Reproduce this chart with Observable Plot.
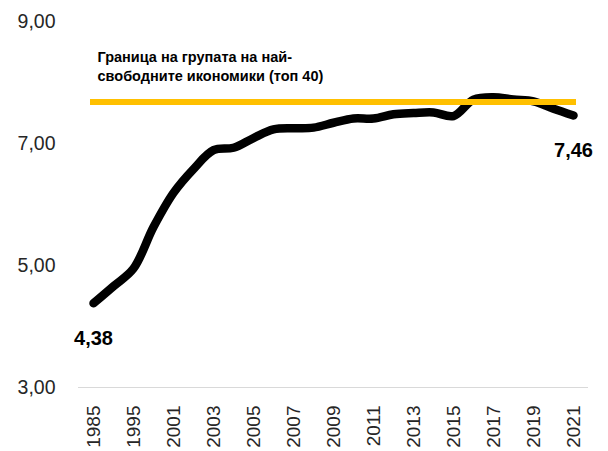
<!DOCTYPE html>
<html>
<head>
<meta charset="utf-8">
<script src="https://cdn.jsdelivr.net/npm/d3@7"></script>
<script src="https://cdn.jsdelivr.net/npm/@observablehq/plot@0.6"></script>
<style>
  html, body { margin: 0; padding: 0; background: #ffffff; }
  #chart svg { display: block; }
</style>
</head>
<body>
<div id="chart"></div>
<script>
// ---- data ----
const years = ["1985","1990","1995","2000","2001","2002","2003","2004","2005","2006","2007","2008",
               "2009","2010","2011","2012","2013","2014","2015","2016","2017","2018","2019","2020","2021"];
const values = [4.38, 4.66, 4.95, 5.63, 6.19, 6.58, 6.89, 6.93, 7.09, 7.23, 7.25, 7.26,
                7.34, 7.41, 7.41, 7.48, 7.50, 7.51, 7.45, 7.72, 7.76, 7.72, 7.69, 7.57, 7.46];
const threshold = 7.68;
const yTicks = [3, 5, 7, 9];
const xTickLabels = years.filter((d, i) => i % 2 === 0);
const annotationText = "Граница на групата на най-\nсвободните икономики (топ 40)";

// ---- helpers ----
const fmt = v => d3.format(".2f")(v).replace(".", ",");
const series = years.map((year, i) => ({year, value: values[i]}));
const endPoints = [series[0], series[series.length - 1]];
const thresholdRow = [{from: years[0], to: years[years.length - 1], value: threshold}];

const chart = Plot.plot({
  width: 608,
  height: 451,
  marginLeft: 78,
  marginRight: 20,
  marginTop: 21,
  marginBottom: 64,
  style: {fontFamily: "'Liberation Sans', Arial, sans-serif", background: "#ffffff", color: "#262626"},
  x: {type: "point", domain: years, padding: 0.5, label: null},
  y: {domain: [3, 9], label: null},
  marks: [
    Plot.ruleY([3], {stroke: "#d9d9d9", strokeWidth: 1.2}),
    Plot.line(series, {
      x: "year", y: "value", curve: "catmull-rom",
      stroke: "#000000", strokeWidth: 8.5, strokeLinecap: "round", strokeLinejoin: "round"
    }),
    Plot.ruleY(thresholdRow, {
      x1: "from", x2: "to", y: "value",
      stroke: "#FFC000", strokeWidth: 6, strokeLinecap: "square"
    }),
    Plot.text(endPoints, {
      x: "year", y: "value", text: d => fmt(d.value),
      dy: 35, textAnchor: "middle", fontSize: 20, fontWeight: "bold", fill: "#000000"
    }),
    Plot.text(thresholdRow, {
      x: "from", y: "value", text: () => annotationText,
      dx: 4, dy: -21, textAnchor: "start", lineAnchor: "bottom", lineHeight: 1.3,
      fontSize: 14.5, fontWeight: "bold", fill: "#000000"
    }),
    Plot.axisX({
      ticks: xTickLabels, tickRotate: -90, tickSize: 0, tickPadding: 18,
      fontSize: 19, label: null, fill: "#262626"
    }),
    Plot.axisY({
      ticks: yTicks, tickFormat: fmt, tickSize: 0, tickPadding: 23,
      fontSize: 19.5, label: null, fill: "#262626"
    })
  ]
});
document.getElementById("chart").appendChild(chart);
</script>
</body>
</html>
